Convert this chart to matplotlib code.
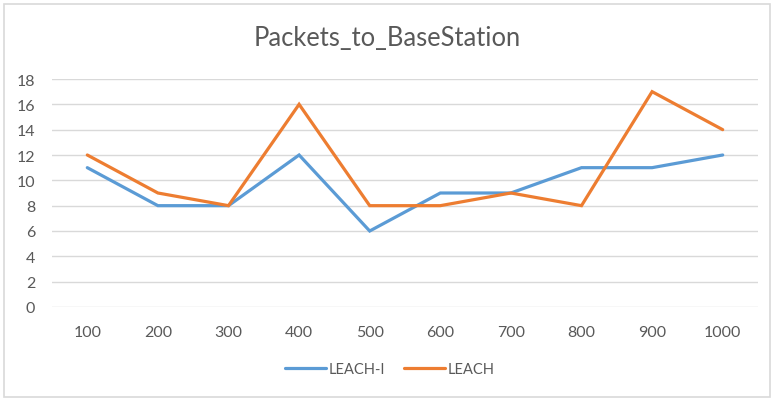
import matplotlib
matplotlib.use("Agg")
import matplotlib.pyplot as plt
from matplotlib.patches import Rectangle

categories = ["100", "200", "300", "400", "500", "600", "700", "800", "900", "1000"]
leach_i = [11, 8, 8, 12, 6, 9, 9, 11, 11, 12]
leach = [12, 9, 8, 16, 8, 8, 9, 8, 17, 14]
yticks = [0, 2, 4, 6, 8, 10, 12, 14, 16, 18]

plt.rcParams['font.family'] = ['Lato', 'DejaVu Sans']

fig = plt.figure(figsize=(7.74, 4.02), dpi=100)
fig.patch.set_facecolor('white')
fig.add_artist(Rectangle((4/774, 4/402), 766/774, 393/402, transform=fig.transFigure,
                         fill=False, edgecolor='#D9D9D9', linewidth=1.2))

ax = fig.add_axes([52/774, 1-308/402, 706/774, 228/402])
x = list(range(len(categories)))
ax.plot(x, leach_i, color='#5B9BD5', linewidth=2.3, label='LEACH-I', solid_capstyle='round', solid_joinstyle='miter')
ax.plot(x, leach, color='#ED7D31', linewidth=2.3, label='LEACH', solid_capstyle='round', solid_joinstyle='miter')

ax.set_xlim(-0.5, len(categories) - 0.5)
ax.set_ylim(0, 18)
ax.set_yticks(yticks)
ax.set_xticks(x)
ax.set_xticklabels(categories)
ax.yaxis.grid(True, color='#D9D9D9', linewidth=1)
ax.set_axisbelow(True)
for s in ax.spines.values():
    s.set_visible(False)
ax.tick_params(axis='both', length=0, labelsize=11.5, colors='#595959')
ax.tick_params(axis='x', pad=13)
ax.tick_params(axis='y', pad=12)

fig.text(0.5, 1-39/402, 'Packets_to_BaseStation', ha='center', va='center', fontsize=18.4, color='#595959')

leg = fig.legend(loc='center', bbox_to_anchor=(390/774, 1-370/402), ncol=2, frameon=False,
                 fontsize=10.5, handlelength=2.8, handletextpad=0.2, columnspacing=1.3)
for t in leg.get_texts():
    t.set_color('#595959')

fig.savefig('out.png', dpi=100)
